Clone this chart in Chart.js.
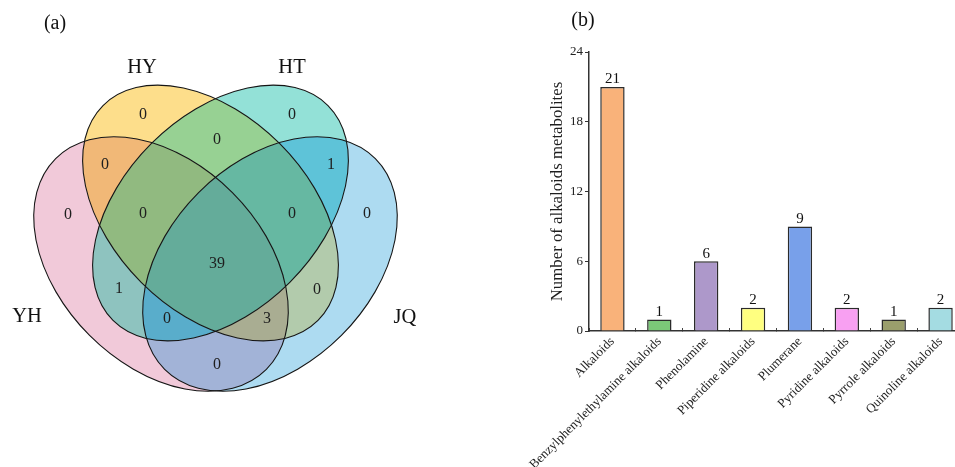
<!DOCTYPE html>
<html>
<head>
<meta charset="utf-8">
<script src="https://cdn.jsdelivr.net/npm/chart.js@4.4.1/dist/chart.umd.min.js"></script>
<style>
  html, body { margin: 0; padding: 0; background: #fff; overflow: hidden; width: 955px; height: 467px; }
  #venn { position: absolute; left: 0; top: 0; }
  #bars { position: absolute; left: 480px; top: 0; }
  .panel { position: absolute; font-family: 'Liberation Serif', 'Times New Roman', serif; font-size: 20px;
           color: #111; transform: translate(-50%, -50%); line-height: 1; white-space: nowrap; }
</style>
</head>
<body>
<canvas id="venn" width="480" height="467"></canvas>
<canvas id="bars" width="490" height="467"></canvas>
<div class="panel" style="left:55px; top:22px;">(a)</div>
<div class="panel" style="left:583px; top:19px;">(b)</div>
<script>
// ---- Venn diagram data: shared alkaloid metabolites among four samples ----
const setNames = ['YH', 'HY', 'HT', 'JQ'];
const regionKeys = ['YH', 'HY', 'HT', 'JQ',
  'YH&HY', 'HY&HT', 'HT&JQ', 'YH&HT', 'HY&JQ', 'YH&JQ',
  'YH&HY&HT', 'HY&HT&JQ', 'YH&HT&JQ', 'YH&HY&JQ', 'YH&HY&HT&JQ'];
const regionCounts = [0, 0, 0, 0,
  0, 0, 1, 1, 0, 0,
  0, 0, 0, 3, 39];

// ---- Bar chart data: alkaloid classes ----
const categories = ['Alkaloids', 'Benzylphenylethylamine alkaloids', 'Phenolamine', 'Piperidine alkaloids',
  'Plumerane', 'Pyridine alkaloids', 'Pyrrole alkaloids', 'Quinoline alkaloids'];
const classCounts = [21, 1, 6, 2, 9, 2, 1, 2];
const yTicks = [0, 6, 12, 18, 24];

// ---- Styling / layout ----
const SERIF = "'Liberation Serif', 'Times New Roman', serif";
const barColors = ['#F9B27A', '#7BC878', '#AD98CA', '#FFFF80', '#78A0EA', '#F8A0F2', '#9A9E6C', '#A4DCE2'];

// Venn geometry in a 480 x 467 layout unit space (y grows downward)
const ellipses = {
  YH: { cx: 161,   cy: 264,   a: 149, b: 101, rot: 45 },
  HY: { cx: 210.5, cy: 213,   a: 152, b: 98,  rot: 45 },
  HT: { cx: 220.5, cy: 213,   a: 152, b: 98,  rot: -45 },
  JQ: { cx: 270,   cy: 264,   a: 149, b: 101, rot: -45 }
};
const regionColors = {
  'YH': '#F1C9D9', 'HY': '#FDDE8B', 'HT': '#93E1D7', 'JQ': '#ADDBF1',
  'YH&HY': '#F1B877', 'HY&HT': '#97D193', 'HT&JQ': '#5EC3D8', 'YH&HT': '#8EC3BF',
  'HY&JQ': '#B2CBAC', 'YH&JQ': '#A2B3D7',
  'YH&HY&HT': '#91BA80', 'HY&HT&JQ': '#66B8A2', 'YH&HT&JQ': '#59ADCB', 'YH&HY&JQ': '#A9AD92',
  'YH&HY&HT&JQ': '#64AC9A'
};
const countPos = {
  'YH': [68, 215], 'HY': [143, 115], 'HT': [292, 115], 'JQ': [367, 214],
  'YH&HY': [105, 165], 'HY&HT': [217, 140], 'HT&JQ': [331, 165], 'YH&HT': [119, 289],
  'HY&JQ': [317, 290], 'YH&JQ': [217, 365],
  'YH&HY&HT': [143, 214], 'HY&HT&JQ': [292, 214], 'YH&HT&JQ': [167, 319], 'YH&HY&JQ': [267, 319],
  'YH&HY&HT&JQ': [217, 264]
};
const namePos = { YH: [27, 317], HY: [142, 68], HT: [292, 68], JQ: [405, 318] };

const vennPlugin = {
  id: 'vennShapes',
  beforeDatasetsDraw(chart) {
    const { ctx, scales: { x, y } } = chart;
    const kx = Math.abs(x.getPixelForValue(1) - x.getPixelForValue(0));
    const ky = Math.abs(y.getPixelForValue(1) - y.getPixelForValue(0));
    const paths = {};
    setNames.forEach(n => {
      const e = ellipses[n];
      const p = new Path2D();
      p.ellipse(x.getPixelForValue(e.cx), y.getPixelForValue(e.cy), e.a * kx, e.b * ky,
                e.rot * Math.PI / 180, 0, Math.PI * 2);
      paths[n] = p;
    });
    const W = chart.width, H = chart.height;
    regionKeys.forEach(key => {
      const members = key.split('&');
      ctx.save();
      setNames.forEach(n => {
        if (members.includes(n)) {
          ctx.clip(paths[n]);
        } else {
          const outside = new Path2D();
          outside.rect(-10, -10, W + 20, H + 20);
          outside.addPath(paths[n]);
          ctx.clip(outside, 'evenodd');
        }
      });
      ctx.fillStyle = regionColors[key];
      ctx.fillRect(0, 0, W, H);
      ctx.restore();
    });
    ctx.save();
    ctx.strokeStyle = '#151515';
    ctx.lineWidth = 1.1;
    setNames.forEach(n => ctx.stroke(paths[n]));
    ctx.restore();
  },
  afterDatasetsDraw(chart) {
    const { ctx } = chart;
    ctx.save();
    ctx.fillStyle = '#1e1e1e';
    ctx.textAlign = 'center';
    ctx.textBaseline = 'middle';
    ctx.font = `16px ${SERIF}`;
    chart.getDatasetMeta(0).data.forEach((pt, i) => ctx.fillText(String(regionCounts[i]), pt.x, pt.y));
    ctx.fillStyle = '#111';
    ctx.font = `20.5px ${SERIF}`;
    chart.getDatasetMeta(1).data.forEach((pt, i) => ctx.fillText(setNames[i], pt.x, pt.y));
    ctx.restore();
  }
};

new Chart(document.getElementById('venn'), {
  type: 'scatter',
  data: {
    datasets: [
      { data: regionKeys.map(k => ({ x: countPos[k][0], y: countPos[k][1] })), pointRadius: 0 },
      { data: setNames.map(n => ({ x: namePos[n][0], y: namePos[n][1] })), pointRadius: 0 }
    ]
  },
  options: {
    responsive: false, animation: false, devicePixelRatio: 1,
    layout: { padding: 0 },
    plugins: { legend: { display: false }, tooltip: { enabled: false } },
    scales: {
      x: { display: false, min: 0, max: 480 },
      y: { display: false, min: 0, max: 467, reverse: true }
    }
  },
  plugins: [vennPlugin]
});

// value labels above each bar
const barValueLabels = {
  id: 'barValueLabels',
  afterDatasetsDraw(chart) {
    const { ctx } = chart;
    ctx.save();
    ctx.fillStyle = '#111';
    ctx.textAlign = 'center';
    ctx.textBaseline = 'bottom';
    ctx.font = `15px ${SERIF}`;
    chart.getDatasetMeta(0).data.forEach((bar, i) => ctx.fillText(String(classCounts[i]), bar.x, bar.y));
    ctx.restore();
  }
};

new Chart(document.getElementById('bars'), {
  type: 'bar',
  data: {
    labels: categories,
    datasets: [{
      data: classCounts,
      backgroundColor: barColors,
      borderColor: '#2b2b2b',
      borderWidth: 1.5,
      categoryPercentage: 1,
      barPercentage: 0.52
    }]
  },
  options: {
    responsive: false, animation: false, devicePixelRatio: 1,
    layout: { padding: { left: 64, right: 6, top: 52, bottom: 0 } },
    plugins: { legend: { display: false }, tooltip: { enabled: false } },
    scales: {
      x: {
        offset: true,
        grid: { offset: true, drawOnChartArea: false, tickLength: -3, color: '#444', lineWidth: 1 },
        border: { color: '#333', width: 1.5 },
        ticks: { autoSkip: false, minRotation: 45, maxRotation: 45, padding: 6, color: '#1e1e1e',
                 font: { family: SERIF, size: 13 } },
        afterFit(s) { s.height = 136; }
      },
      y: {
        min: 0, max: 24,
        afterBuildTicks(s) { s.ticks = yTicks.map(v => ({ value: v })); },
        grid: { drawOnChartArea: false, tickLength: 4, color: '#333' },
        border: { color: '#333', width: 1.5 },
        ticks: { padding: 2, color: '#222', font: { family: SERIF, size: 13 } },
        title: { display: true, text: 'Number of alkaloids metabolites', color: '#1e1e1e',
                 font: { family: SERIF, size: 16.8 }, padding: { top: 4, bottom: 0 } },
        afterFit(s) { s.width = 45; }
      }
    }
  },
  plugins: [barValueLabels]
});
</script>
</body>
</html>
